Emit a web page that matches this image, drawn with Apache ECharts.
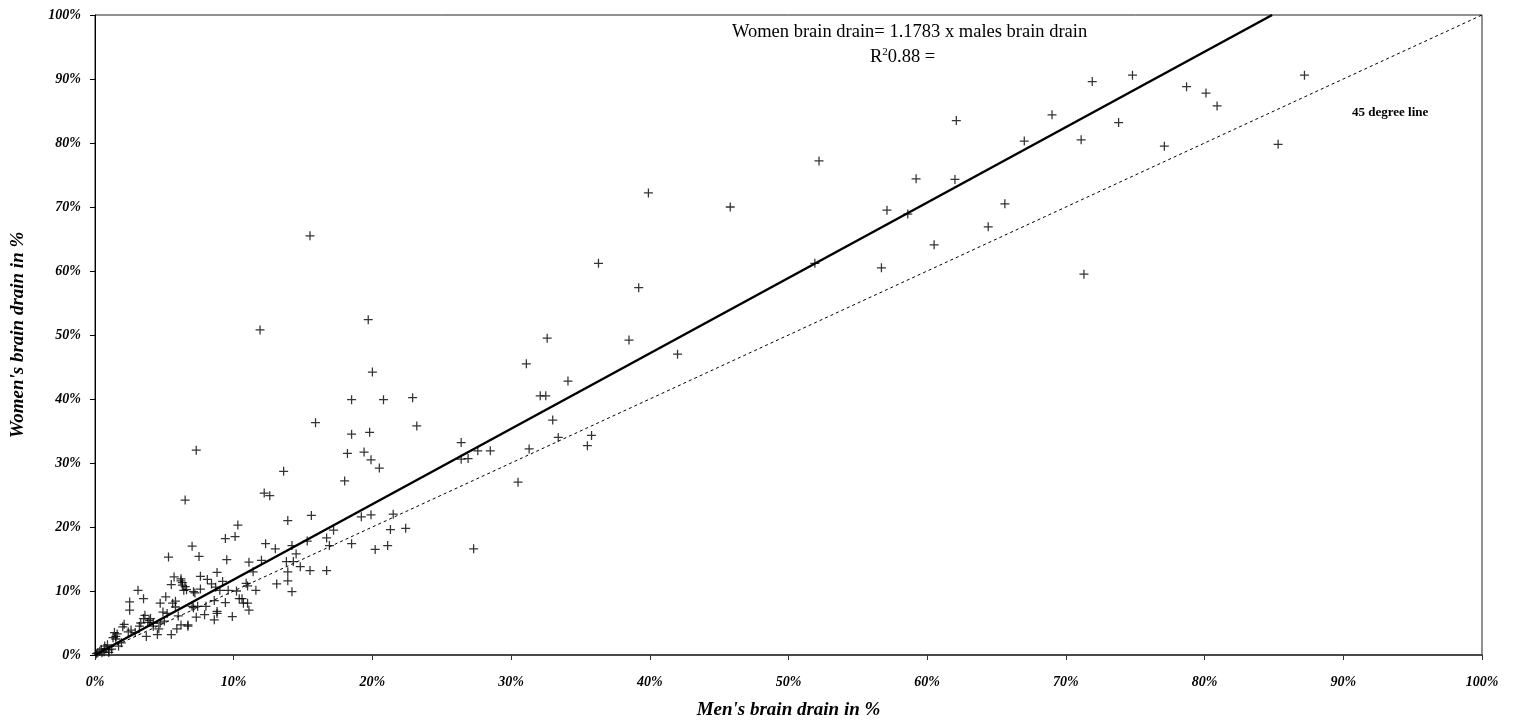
<!DOCTYPE html>
<html>
<head>
<meta charset="utf-8">
<script src="https://cdn.jsdelivr.net/npm/echarts@6/dist/echarts.min.js"></script>
<style>
html,body{margin:0;padding:0;background:#fff;}
#chart{width:1517px;height:721px;}
</style>
</head>
<body>
<div id="chart"></div>
<script>
// Men's brain drain (%) and women's brain drain (%) per country
const menDrain = [
  45.8,52.2,62.1,71.9,74.8,87.2,78.7,80.1,80.9,69.0,73.8,67.0,71.1,77.1,85.3,59.2,62.0,57.1,58.6,65.6,64.4,60.5,51.9,56.7,71.3,
  36.3,39.2,38.5,32.6,31.1,34.1,32.1,32.5,33.0,23.2,33.4,35.8,35.5,26.4,26.4,26.9,27.6,28.5,31.3,39.9,42.0,30.5,27.3,
  18.5,20.8,15.9,18.5,19.8,7.3,18.2,19.4,19.9,20.5,13.6,18.0,6.5,12.2,12.6,15.6,13.9,10.3,19.2,19.9,21.5,21.3,22.4,9.4,10.1,7.0,
  12.3,13.0,14.2,17.2,16.7,15.3,14.5,16.9,18.5,20.2,21.1,7.5,9.5,11.1,12.0,13.8,14.3,11.4,13.9,14.8,15.5,16.7,13.9,13.1,14.2,
  8.8,7.6,8.1,9.2,8.4,8.7,9.0,9.6,10.9,11.0,11.6,6.2,6.3,6.6,7.1,7.6,10.4,
  11.9,15.5,19.7,20.0,22.9,
  10.7,11.0,4.7,5.1,5.8,5.8,5.2,4.9,7.0,8.0,7.9,8.6,8.8,8.6,7.3,6.7,5.9,5.5,4.5,4.2,5.0,4.0,
  3.1,2.5,3.5,2.5,5.6,3.6,3.5,4.7,3.3,3.2,3.8,3.9,6.0,6.7,7.1,7.4,2.1,2.0,2.6,2.9,1.4,1.5,1.3,0.9,0.7,0.45,0.34,0.2,0.1,0.8,1.0,0.65,1.0,
  9.9,9.4,10.2,10.6,11.1,8.8,7.2,6.5,5.7,6.2,5.5,6.3,6.4,5.3,
  1.9,1.7,1.2,0.5,3.7,2.4,4.6,4.2,6.2,1.6,1.5
];
const womenDrain = [
  70.0,77.2,83.5,89.6,90.6,90.6,88.8,87.8,85.8,84.4,83.2,80.3,80.5,79.5,79.8,74.4,74.3,69.5,68.9,70.5,66.9,64.1,61.2,60.5,59.5,
  61.2,57.4,49.2,49.5,45.5,42.8,40.5,40.5,36.7,35.8,34.0,34.3,32.7,33.2,30.6,30.7,31.9,31.9,32.2,72.2,47.0,27.0,16.6,
  39.9,39.9,36.3,34.5,34.8,32.0,31.5,31.7,30.5,29.2,28.7,27.2,24.2,25.3,24.9,21.8,21.0,20.3,21.6,21.9,22.0,19.6,19.8,18.2,18.5,17.0,
  17.4,16.6,17.1,19.5,18.3,17.8,15.8,17.1,17.4,16.5,17.1,15.4,14.9,14.5,14.8,14.6,14.6,13.0,13.0,13.8,13.2,13.2,11.6,11.1,9.9,
  12.9,12.3,11.8,11.5,11.1,10.6,10.1,10.1,11.2,10.8,10.1,11.6,10.9,10.2,9.9,10.3,8.8,
  50.8,65.5,52.4,44.2,40.2,
  8.1,8.1,8.1,9.1,8.4,7.5,6.5,6.7,7.6,7.6,6.3,8.5,6.8,5.5,5.9,4.7,4.1,3.2,3.2,5.0,5.3,5.7,
  10.1,8.3,8.8,7.0,8.1,6.2,5.7,5.0,5.0,4.5,5.1,5.4,6.1,4.5,7.4,7.6,4.8,4.4,3.9,3.5,3.5,2.9,2.7,1.6,1.4,0.9,0.6,0.35,0.2,1.0,0.8,0.5,0.4,
  6.0,8.2,10.0,8.8,7.0,6.5,9.7,10.7,12.2,11.9,11.0,11.3,10.1,15.3,
  1.9,1.4,0.9,0.35,2.9,3.6,4.1,4.5,4.7,3.3,2.5
];
const slope = 1.1783;
const xTicks = [0,10,20,30,40,50,60,70,80,90,100];
const equationText = 'Women brain drain= 1.1783 x males brain drain';
const r2Value = '0.88 =';
const lineLabel = '45 degree line';

const points = menDrain.map((m, i) => [m, womenDrain[i]]);
const serif = '"Liberation Serif", "Times New Roman", serif';
const chart = echarts.init(document.getElementById('chart'));
const axisLabelStyle = {fontFamily: serif, fontStyle: 'italic', fontWeight: 'bold', fontSize: 14, color: '#000'};
const axisNameStyle = {fontFamily: serif, fontStyle: 'italic', fontWeight: 'bold', fontSize: 19, color: '#000'};
chart.setOption({
  animation: false,
  backgroundColor: '#fff',
  grid: {left: 95, right: 35, top: 15, bottom: 66, containLabel: false, outerBoundsMode: 'none',
         show: true, borderColor: '#222', borderWidth: 1},
  xAxis: {
    type: 'value', min: xTicks[0], max: xTicks[xTicks.length-1], interval: 10,
    name: "Men's brain drain in %", nameLocation: 'middle', nameGap: 46,
    nameTextStyle: axisNameStyle,
    axisLine: {show: true, lineStyle: {color: '#333', width: 1.5}},
    axisTick: {show: true, inside: false, length: 5, lineStyle: {color: '#333'}},
    axisLabel: Object.assign({formatter: '{value}%', margin: 20}, axisLabelStyle),
    splitLine: {show: false}
  },
  yAxis: {
    type: 'value', min: 0, max: 100, interval: 10,
    name: "Women's brain drain in %", nameLocation: 'middle', nameGap: 67, nameRotate: 90,
    nameTextStyle: axisNameStyle,
    axisLine: {show: true, lineStyle: {color: '#000', width: 1}},
    axisTick: {show: true, inside: false, length: 5, lineStyle: {color: '#000'}},
    axisLabel: Object.assign({formatter: '{value}%', margin: 14}, axisLabelStyle),
    splitLine: {show: false}
  },
  series: [
    {
      type: 'line', data: [[0,0],[100,100]], symbol: 'none', silent: true,
      lineStyle: {color: '#000', width: 1, type: [3,3]}, z: 2
    },
    {
      type: 'line', data: [[0,0],[100/slope,100]], symbol: 'none', silent: true,
      lineStyle: {color: '#000', width: 2.5}, z: 3
    },
    {
      type: 'scatter', data: points, symbol: 'path://M4.3,0H5.7V4.3H10V5.7H5.7V10H4.3V5.7H0V4.3H4.3Z',
      symbolSize: 9, itemStyle: {color: '#000'}, z: 4
    }
  ],
  graphic: [
    {type: 'text', left: 732, top: 23, style: {text: equationText, fontFamily: serif, fontSize: 18.5, fill: '#000'}},
    {type: 'text', left: 870, top: 47, style: {
      text: '{a|R}{s|2}{a|' + r2Value + '}',
      rich: {a: {fontFamily: serif, fontSize: 18.5, color: '#000'},
             s: {fontFamily: serif, fontSize: 11, color: '#000', verticalAlign: 'top', padding: [0,0,9,0]}}
    }},
    {type: 'text', left: 1352, top: 106, style: {text: lineLabel, fontFamily: serif, fontWeight: 'bold', fontSize: 13, fill: '#000'}}
  ]
});
</script>
</body>
</html>
